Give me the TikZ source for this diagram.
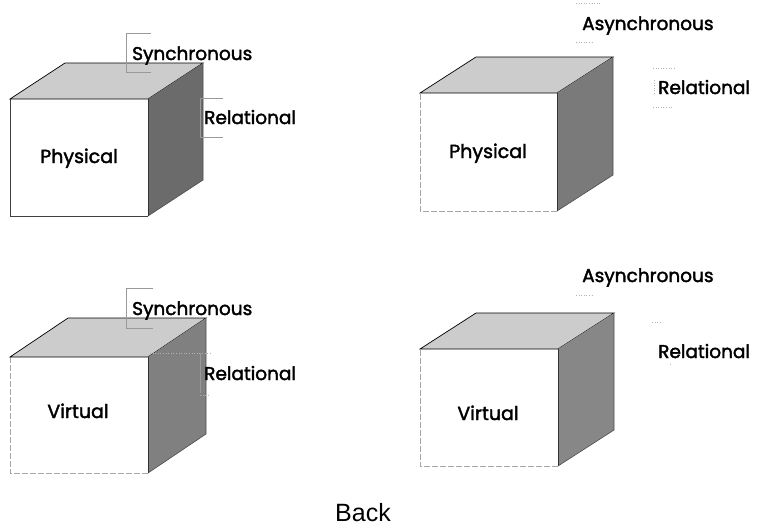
\documentclass[tikz,border=0pt]{standalone}
\usepackage{fontspec}
\setmainfont{Liberation Sans}
\newfontfamily\labelfont{Poppins}[FakeBold=2]
\begin{document}
\begin{tikzpicture}[x=1pt,y=-1pt,
  lbl/.style={font=\labelfont\fontsize{18.5}{20}\selectfont, inner sep=0pt, anchor=base west},
  facelbl/.style={font=\labelfont\fontsize{19}{21}\selectfont, inner sep=0pt, anchor=base},
  brk/.style={draw=gray!80, line width=0.6pt},
  faint/.style={draw=gray!60, line width=0.6pt, dotted},
  topface/.style={fill=black!20, draw=black, line width=0.7pt},
  sideface/.style={draw=black!70, line width=0.6pt},
  frontedge/.style={draw=gray!70, line width=0.6pt, dash pattern=on 6pt off 2pt}]
\useasboundingbox (0,0) rectangle (759,528);
% #1 x, #2 y (front-top-left), #3 w, #4 h, #5 dx, #6 dy, #7 side colour
\newcommand\mycube[7]{%
  \fill[white] (#1,#2) rectangle ++(#3,#4);
  \draw[frontedge] (#1+#3,#2+#4) -- (#1,#2+#4) -- (#1,#2);
  \draw[topface] (#1,#2) -- (#1+#5,#2-#6) -- (#1+#3+#5,#2-#6) -- (#1+#3,#2) -- cycle;
  \fill[#7] (#1+#3,#2) -- (#1+#3+#5,#2-#6) -- (#1+#3+#5,#2+#4-#6) -- (#1+#3,#2+#4) -- cycle;
  \draw[sideface] (#1+#3,#2+#4) -- (#1+#3+#5,#2+#4-#6) -- (#1+#3+#5,#2-#6);
  \draw[black!80, line width=0.5pt] (#1+#3,#2) -- (#1+#3,#2+#4);
}
% cube 1 : Physical / Synchronous
\mycube{10}{99}{138}{117}{55}{36}{black!58}
\draw[black!75, line width=0.6pt] (10,99) -- (10,216) -- (148,216);
\node[facelbl] (p1) at (79,163) {Physical};
\node[lbl] (s1) at (132,60) {Synchronous};
\node[lbl] (r1) at (204,124) {Relational};
\draw[brk] (151,33) -- (126,33) -- (126,72) -- (151,72);
\draw[brk] (223,98) -- (200,98) -- (200,137) -- (223,137);
% cube 2 : Physical / Asynchronous
\mycube{420}{93}{137}{118}{56}{36}{black!52}
\node[facelbl] (p2) at (488,158) {Physical};
\node[lbl] (a2) at (582,30) {Asynchronous};
\node[lbl] (r2) at (658,94) {Relational};
\draw[faint] (576,3) -- (600,3);
\draw[faint] (576,42) -- (592,42);
\draw[faint] (653,68) -- (676,68);
\draw[faint] (653,107) -- (672,107);
\draw[faint] (654,80) -- (654,95);
% cube 3 : Virtual / Synchronous
\mycube{10}{357}{138}{116}{58}{39}{black!50}
\node[facelbl] (v3) at (78,418) {Virtual};
\node[lbl] (s3) at (132,315) {Synchronous};
\node[lbl] (r3) at (204,380) {Relational};
\draw[brk] (153,288) -- (126,288) -- (126,328) -- (153,328);
\draw[brk] (200,353) -- (200,393);
\draw[faint] (150,353) -- (210,353);
\draw[faint] (200,395) -- (210,395);
% cube 4 : Virtual / Asynchronous
\mycube{420}{349}{138}{117}{56}{36}{black!47}
\node[facelbl] (v4) at (488,420) {Virtual};
\node[lbl] (a4) at (582,282) {Asynchronous};
\node[lbl] (r4) at (658,358) {Relational};
\draw[faint] (576,295) -- (592,295);
\draw[faint] (652,322) -- (662,322);
\draw[faint] (670,364) -- (672,364);
% back
\node[font=\fontsize{25}{27}\selectfont, inner sep=0pt] (back) at (363,513) {Back};
\end{tikzpicture}
\end{document}
